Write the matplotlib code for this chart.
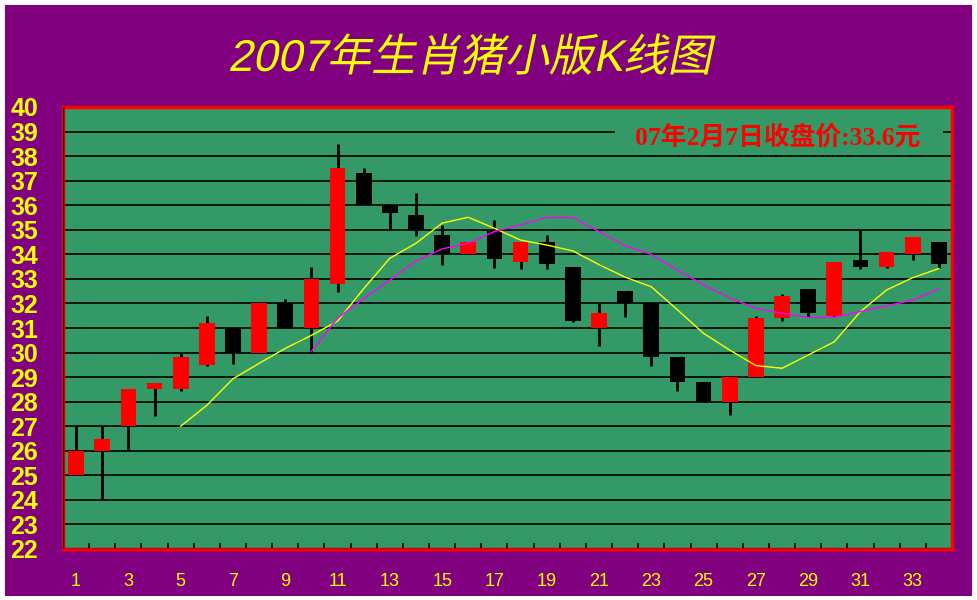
import numpy as np
import matplotlib
matplotlib.use("Agg")
import matplotlib.pyplot as plt
import matplotlib.patheffects as pe
from matplotlib.patches import Rectangle
from matplotlib.transforms import Affine2D

# daily candles (1..34)
days = np.arange(1, 35)
opens = [25, 26, 27, 28.5, 28.5, 29.5, 31, 30, 32, 31, 32.8, 37.3, 36, 35.6, 34.8, 34, 35,
         33.7, 34.5, 33.5, 31, 32.5, 32, 29.8, 28.8, 28, 29, 31.4, 32.6, 31.5, 33.75, 33.5, 34, 34.5]
closes = [26, 26.5, 28.5, 28.75, 29.8, 31.2, 30, 32, 31, 33, 37.5, 36, 35.7, 35, 34, 34.5, 33.8,
          34.5, 33.6, 31.3, 31.6, 32, 29.8, 28.8, 28, 29, 31.4, 32.3, 31.6, 33.7, 33.5, 34.1, 34.7, 33.6]
highs = [27, 27, 28.5, 28.75, 30, 31.5, 31, 32, 32.2, 33.5, 38.5, 37.5, 36, 36.5, 35.2, 34.5, 35.4,
         34.5, 34.8, 33.5, 32, 32.5, 32, 29.8, 28.8, 29, 31.5, 32.4, 32.6, 33.7, 35, 34.1, 34.7, 34.5]
lows = [25, 24, 26, 27.4, 28.45, 29.45, 29.55, 30, 31, 30, 32.45, 36, 35, 34.75, 33.55, 34, 33.45,
        33.4, 33.4, 31.25, 30.25, 31.45, 29.45, 28.45, 28, 27.45, 29, 31.3, 31.45, 31.45, 33.4, 33.45, 33.75, 33.45]

# moving average lines as drawn (yellow from day 5, magenta from day 10)
ma5_days = np.arange(5, 35)
ma5 = [27.0, 27.85, 28.93, 29.56, 30.17, 30.7, 31.28, 32.6, 33.84, 34.45, 35.27, 35.51, 35.06, 34.58,
       34.38, 34.14, 33.58, 33.07, 32.68, 31.74, 30.78, 30.1, 29.47, 29.36, 29.9, 30.44, 31.67, 32.55,
       33.05, 33.42]
ma10_days = np.arange(10, 35)
ma10 = [30.05, 31.4, 32.2, 32.95, 33.73, 34.22, 34.45, 34.93, 35.2, 35.5, 35.5, 34.93, 34.35, 34.0,
        33.36, 32.75, 32.23, 31.8, 31.6, 31.43, 31.43, 31.67, 31.9, 32.14, 32.6]

yticks = list(range(22, 41))
xticks = list(range(1, 34, 2))

title = "2007年生肖猪小版K线图"
note = "07年2月7日收盘价:33.6元"

purple = "#800080"
green = "#339966"


class Slant(pe.AbstractPathEffect):
    """shear the glyph paths so CJK text looks italic"""
    def __init__(self, deg=12):
        super().__init__()
        self.deg = deg

    def draw_path(self, renderer, gc, tpath, affine, rgbFace=None):
        renderer.draw_path(gc, tpath, Affine2D().skew_deg(self.deg, 0) + affine, rgbFace)


fig = plt.figure(figsize=(9.77, 6.0), dpi=100, facecolor="white")
fig.patches.append(Rectangle((5 / 977, 4 / 600), 967 / 977, 591 / 600, transform=fig.transFigure,
                             facecolor=purple, edgecolor="none", zorder=-10))

ax = fig.add_axes([63 / 977, 1 - 549 / 600, 889 / 977, 442 / 600])
ax.set_zorder(1)
ax.set_facecolor(green)
ax.set_xlim(0.5, 34.5)
ax.set_ylim(22, 40)

# grid lines
for v in yticks[1:-1]:
    ax.axhline(v, color="black", lw=1.2, zorder=1)
# hide grid under the note
ax.add_patch(Rectangle((21.6, 38.7), 12.55, 0.6, facecolor=green, edgecolor="none", zorder=2))

# candles
w = 0.6
for d, o, c, h, l in zip(days, opens, closes, highs, lows):
    col = "#ff0000" if c >= o else "black"
    ax.vlines(d, l, h, color="black", lw=2, zorder=3)
    ax.bar(d, abs(c - o), bottom=min(o, c), width=w, color=col, edgecolor="none", zorder=4)

ax.plot(ma5_days, ma5, color="#ffff00", lw=1, zorder=5)
ax.plot(ma10_days, ma10, color="#ff00ff", lw=1, zorder=5)

ax.text(27.85, 38.78, note, color="#ff0000", fontsize=18.5, fontweight="bold",
        family=["Liberation Serif", "Noto Sans CJK SC"], ha="center", va="center", zorder=6)

# frame
for s in ax.spines.values():
    s.set_color("#ff0000")
    s.set_linewidth(2.5)
ax.axhline(22, color="black", lw=1, zorder=6)
ax.axvline(0.5, color="black", lw=1, zorder=6)

ax.set_yticks(yticks)
ax.set_yticklabels([str(v) for v in yticks])
ax.tick_params(axis="y", length=0, pad=18, labelsize=18, labelcolor="#ffff00")
ax.set_xticks(xticks)
ax.set_xticklabels([str(v) for v in xticks])
ax.tick_params(axis="x", length=0, pad=17, labelsize=13, labelcolor="#ffff00")
ax.set_xticks(np.arange(1.5, 34, 1), minor=True)
ax.tick_params(axis="x", which="minor", direction="in", length=4, width=1.2, color="black")
for lab in ax.get_xticklabels():
    lab.set_family("Liberation Sans")
for lab in ax.get_yticklabels():
    lab.set_family("Liberation Sans")
    lab.set_fontweight("bold")

fig.text(470 / 977, 1 - 59 / 600, title, color="#ffff00", fontsize=32,
         family=["Liberation Sans", "Noto Sans CJK SC"], ha="center", va="center",
         path_effects=[Slant(12)])

fig.savefig("out.png", dpi=100, facecolor="white")
